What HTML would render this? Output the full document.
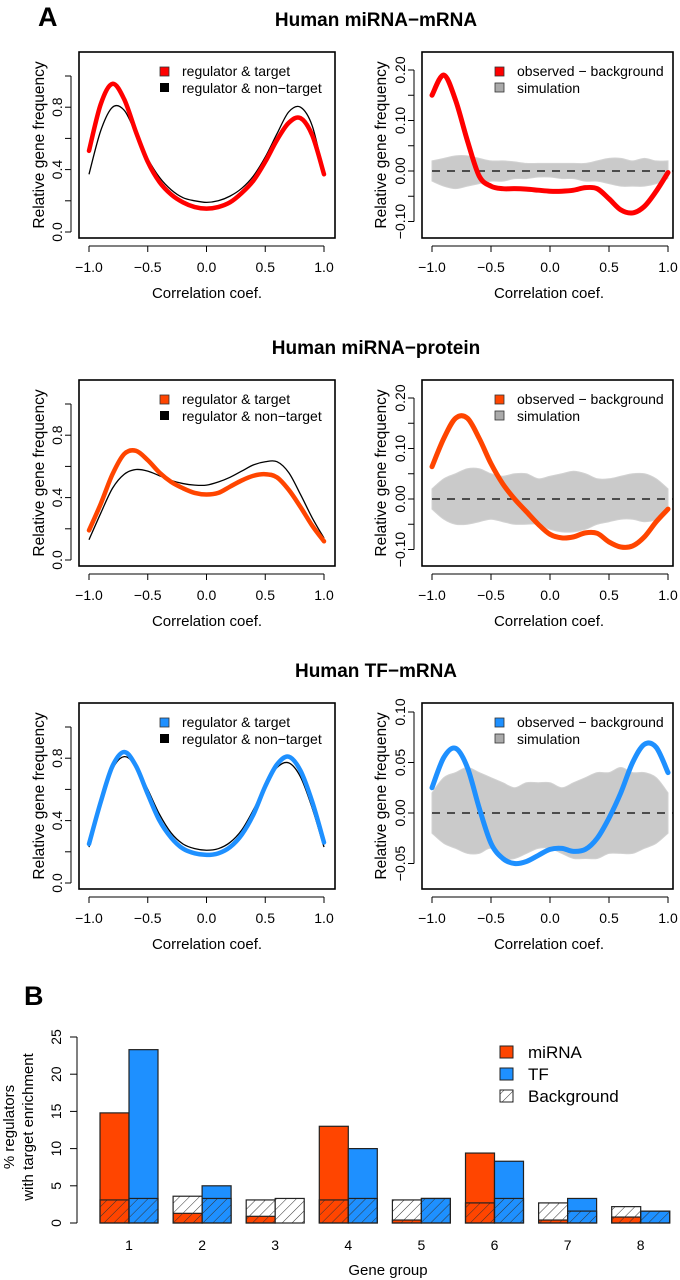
<!DOCTYPE html>
<html><head><meta charset="utf-8"><style>
html,body{margin:0;padding:0;background:#fff}
svg{display:block;font-family:"Liberation Sans",Arial,sans-serif}
</style></head><body>
<svg id="fig" width="680" height="1280" viewBox="0 0 680 1280">
<defs>
<pattern id="hatch" patternUnits="userSpaceOnUse" width="7" height="7" patternTransform="rotate(45)">
<line x1="0" y1="0" x2="0" y2="7" stroke="#333" stroke-width="1"/>
</pattern>
</defs>
</svg>
<script>
// ---------- data ----------
const xGrid = [-1,-0.9,-0.8,-0.7,-0.6,-0.5,-0.4,-0.3,-0.2,-0.1,0,0.1,0.2,0.3,0.4,0.5,0.6,0.7,0.8,0.9,1];
const xTicks = [-1,-0.5,0,0.5,1];
const xTickLabels = ["\u22121.0","\u22120.5","0.0","0.5","1.0"];
const titles = ["Human miRNA\u2212mRNA","Human miRNA\u2212protein","Human TF\u2212mRNA"];
const colors = ["#ff0000","#ff4500","#1e90ff"];
const target1 = [0.52,0.82,0.95,0.85,0.64,0.45,0.32,0.24,0.19,0.16,0.15,0.16,0.19,0.25,0.33,0.45,0.59,0.70,0.73,0.62,0.37];
const nontarget1 = [0.37,0.65,0.80,0.78,0.63,0.47,0.35,0.27,0.22,0.20,0.19,0.20,0.23,0.28,0.36,0.48,0.63,0.77,0.80,0.68,0.37];
const target2 = [0.19,0.36,0.55,0.68,0.70,0.64,0.56,0.50,0.46,0.43,0.42,0.43,0.47,0.51,0.54,0.55,0.53,0.45,0.34,0.22,0.12];
const nontarget2 = [0.13,0.30,0.46,0.55,0.58,0.57,0.54,0.51,0.49,0.48,0.48,0.50,0.53,0.57,0.61,0.63,0.63,0.56,0.42,0.27,0.14];
const target3 = [0.25,0.52,0.75,0.84,0.75,0.57,0.40,0.29,0.22,0.19,0.18,0.19,0.23,0.31,0.44,0.62,0.76,0.81,0.72,0.52,0.26];
const nontarget3 = [0.23,0.50,0.73,0.81,0.75,0.60,0.44,0.32,0.25,0.22,0.21,0.22,0.26,0.34,0.47,0.62,0.74,0.77,0.68,0.48,0.23];
const observed1 = [0.15,0.19,0.14,0.06,-0.01,-0.03,-0.035,-0.035,-0.036,-0.038,-0.04,-0.04,-0.038,-0.033,-0.035,-0.055,-0.077,-0.083,-0.07,-0.04,-0.003];
const observed2 = [0.064,0.12,0.16,0.16,0.12,0.07,0.03,0.0,-0.025,-0.05,-0.07,-0.077,-0.075,-0.067,-0.068,-0.085,-0.095,-0.093,-0.075,-0.045,-0.02];
const observed3 = [0.025,0.055,0.064,0.045,0.005,-0.03,-0.045,-0.05,-0.048,-0.042,-0.036,-0.035,-0.038,-0.036,-0.025,-0.005,0.02,0.05,0.068,0.065,0.04];
const simUpper1 = [0.02,0.025,0.03,0.03,0.025,0.02,0.02,0.018,0.015,0.015,0.015,0.015,0.015,0.015,0.02,0.025,0.025,0.02,0.025,0.02,0.02];
const simLower1 = [-0.02,-0.03,-0.035,-0.03,-0.025,-0.02,-0.02,-0.015,-0.015,-0.012,-0.012,-0.015,-0.015,-0.02,-0.02,-0.025,-0.03,-0.03,-0.03,-0.025,-0.015];
const simUpper2 = [0.02,0.04,0.05,0.06,0.06,0.05,0.045,0.05,0.05,0.04,0.045,0.05,0.055,0.05,0.04,0.04,0.045,0.05,0.05,0.04,0.02];
const simLower2 = [-0.02,-0.04,-0.05,-0.05,-0.045,-0.04,-0.045,-0.05,-0.05,-0.05,-0.06,-0.065,-0.065,-0.06,-0.05,-0.045,-0.04,-0.04,-0.045,-0.04,-0.02];
const simUpper3 = [0.02,0.035,0.04,0.045,0.04,0.035,0.03,0.025,0.03,0.03,0.03,0.025,0.03,0.035,0.04,0.04,0.045,0.04,0.04,0.035,0.02];
const simLower3 = [-0.02,-0.03,-0.035,-0.04,-0.04,-0.035,-0.045,-0.045,-0.04,-0.035,-0.035,-0.04,-0.045,-0.045,-0.045,-0.04,-0.04,-0.04,-0.035,-0.03,-0.02];
const leftYTicks = [0,0.2,0.4,0.6,0.8,1.0];
const leftYLabels = ["0.0","","0.4","","0.8",""];
const rightYTicksA = [-0.10,-0.05,0,0.05,0.10,0.15,0.20];
const rightYLabelsA = ["\u22120.10","","0.00","","0.10","","0.20"];
const rightYTicksB = [-0.05,0,0.05,0.10];
const rightYLabelsB = ["\u22120.05","0.00","0.05","0.10"];
const groups = ["1","2","3","4","5","6","7","8"];
const mirnaVals = [14.8,1.3,0.9,13.0,0.4,9.4,0.4,0.8];
const tfVals = [23.3,5.0,0,10.0,3.3,8.3,3.3,1.6];
const mirnaBg = [3.1,3.6,3.1,3.1,3.1,2.7,2.7,2.2];
const tfBg = [3.3,3.3,3.3,3.3,3.3,3.3,1.6,1.6];
const barYTicks = [0,5,10,15,20,25];

// ---------- helpers ----------
const NS = "http://www.w3.org/2000/svg";
const svg = document.getElementById("fig");
function mk(tag, attrs, parent){
  const e = document.createElementNS(NS, tag);
  for (const k in attrs) e.setAttribute(k, attrs[k]);
  (parent||svg).appendChild(e);
  return e;
}
function txt(x,y,s,size,extra,parent){
  const t = mk("text", Object.assign({x:x,y:y,"font-size":size,fill:"#000"}, extra||{}), parent);
  t.textContent = s;
  return t;
}
function smooth(pts){
  let d = "M"+pts[0][0].toFixed(2)+","+pts[0][1].toFixed(2);
  for (let i=0;i<pts.length-1;i++){
    const p0 = pts[i-1]||pts[i], p1 = pts[i], p2 = pts[i+1], p3 = pts[i+2]||pts[i+1];
    const c1x = p1[0]+(p2[0]-p0[0])/6, c1y = p1[1]+(p2[1]-p0[1])/6;
    const c2x = p2[0]-(p3[0]-p1[0])/6, c2y = p2[1]-(p3[1]-p1[1])/6;
    d += " C"+c1x.toFixed(2)+","+c1y.toFixed(2)+" "+c2x.toFixed(2)+","+c2y.toFixed(2)+" "+p2[0].toFixed(2)+","+p2[1].toFixed(2);
  }
  return d;
}

// ---------- panel A ----------
const rowOffsets = [0,328,651];
const targets = [target1,target2,target3];
const nontargets = [nontarget1,nontarget2,nontarget3];
const observeds = [observed1,observed2,observed3];
const uppers = [simUpper1,simUpper2,simUpper3];
const lowers = [simLower1,simLower2,simLower3];

const lblA = txt(38,26,"A",27,{"font-weight":"bold"});



for (let r=0;r<3;r++){
  const R = rowOffsets[r];
  const g = mk("g",{});
  
  
  const title = txt(376,R+26,titles[r],19,{"font-weight":"bold","text-anchor":"middle"},g);
  
  

  const lx = v => 89 + (v+1)*117.5;
  const ly = v => R+232 - v*156;
  const lp = mk("g",{},g);
  
  
  const lbox = mk("rect",{x:79,y:R+52,width:256,height:186,fill:"none",stroke:"#000","stroke-width":1.6},lp);
  
  
  mk("line",{x1:71,x2:71,y1:ly(0),y2:ly(1),stroke:"#000","stroke-width":1},lp);
  leftYTicks.forEach((v,i)=>{
    const t = mk("line",{x1:65,x2:71,y1:ly(v),y2:ly(v),stroke:"#000","stroke-width":1},lp);
    
    
    if (leftYLabels[i]){
      const l = txt(0,0,leftYLabels[i],14,{"text-anchor":"middle",transform:"translate(62,"+ly(v)+") rotate(-90)"},lp);
      
      
    }
  });
  mk("line",{x1:lx(-1),x2:lx(1),y1:R+246,y2:R+246,stroke:"#000","stroke-width":1},lp);
  xTicks.forEach((v,i)=>{
    const t = mk("line",{x1:lx(v),x2:lx(v),y1:R+246,y2:R+252,stroke:"#000","stroke-width":1},lp);
    
    
    const l = txt(lx(v),R+272,xTickLabels[i],14,{"text-anchor":"middle"},lp);
    
    
  });
  const xt = txt(207,R+298,"Correlation coef.",15,{"text-anchor":"middle"},lp);
  
  
  const yt = txt(0,0,"Relative gene frequency",15.5,{"text-anchor":"middle",transform:"translate(44,"+(R+145)+") rotate(-90)"},lp);
  
  
  const nt = mk("path",{d:smooth(xGrid.map((x,i)=>[lx(x),ly(nontargets[r][i])])),fill:"none",stroke:"#000","stroke-width":1.3},lp);
  
  
  const tg = mk("path",{d:smooth(xGrid.map((x,i)=>[lx(x),ly(targets[r][i])])),fill:"none",stroke:colors[r],"stroke-width":4.5,"stroke-linecap":"round"},lp);
  
  
  const lg = mk("g",{},lp);
  
  
  const s1 = mk("rect",{x:160,y:R+67,width:9,height:9,fill:colors[r],stroke:"#333","stroke-width":0.8},lg);
  
  
  const t1 = txt(182,R+76,"regulator & target",14,{},lg);
  
  
  const s2 = mk("rect",{x:160,y:R+83,width:9,height:9,fill:"#000"},lg);
  
  
  const t2 = txt(182,R+93,"regulator & non\u2212target",14,{},lg);
  
  

  const rx = v => 432 + (v+1)*118;
  const zero = r===2 ? R+162 : R+171;
  const scl = r===2 ? 1010 : 505;
  const ry = v => zero - v*scl;
  const rp = mk("g",{},g);
  
  
  const band = xGrid.map((x,i)=>[rx(x),ry(uppers[r][i])]);
  const bandLow = xGrid.map((x,i)=>[rx(x),ry(lowers[r][i])]).reverse();
  const bd = smooth(band) + " L" + smooth(bandLow).slice(1) + " Z";
  const sim = mk("path",{d:bd,fill:"#cacaca",stroke:"#d2d2d2","stroke-width":1},rp);
  
  
  const zl = mk("line",{x1:rx(-1),x2:673,y1:ry(0),y2:ry(0),stroke:"#000","stroke-width":1.3,"stroke-dasharray":"8,7"},rp);
  
  
  const ob = mk("path",{d:smooth(xGrid.map((x,i)=>[rx(x),ry(observeds[r][i])])),fill:"none",stroke:colors[r],"stroke-width":5,"stroke-linecap":"round"},rp);
  
  
  const rbox = mk("rect",{x:422,y:R+52,width:251,height:186,fill:"none",stroke:"#000","stroke-width":1.6},rp);
  
  
  const ticks = r===2 ? rightYTicksB : rightYTicksA;
  const labs = r===2 ? rightYLabelsB : rightYLabelsA;
  mk("line",{x1:414,x2:414,y1:ry(ticks[0]),y2:ry(ticks[ticks.length-1]),stroke:"#000","stroke-width":1},rp);
  ticks.forEach((v,i)=>{
    const t = mk("line",{x1:408,x2:414,y1:ry(v),y2:ry(v),stroke:"#000","stroke-width":1},rp);
    
    
    if (labs[i]){
      const l = txt(0,0,labs[i],14,{"text-anchor":"middle",transform:"translate(405,"+ry(v)+") rotate(-90)"},rp);
      
      
    }
  });
  mk("line",{x1:rx(-1),x2:rx(1),y1:R+246,y2:R+246,stroke:"#000","stroke-width":1},rp);
  xTicks.forEach((v,i)=>{
    const t = mk("line",{x1:rx(v),x2:rx(v),y1:R+246,y2:R+252,stroke:"#000","stroke-width":1},rp);
    
    
    const l = txt(rx(v),R+272,xTickLabels[i],14,{"text-anchor":"middle"},rp);
    
    
  });
  const xt2 = txt(549,R+298,"Correlation coef.",15,{"text-anchor":"middle"},rp);
  
  
  const yt2 = txt(0,0,"Relative gene frequency",15.5,{"text-anchor":"middle",transform:"translate(386,"+(R+145)+") rotate(-90)"},rp);
  
  
  const lg2 = mk("g",{},rp);
  
  
  const s3 = mk("rect",{x:495,y:R+67,width:9,height:9,fill:colors[r],stroke:"#333","stroke-width":0.8},lg2);
  
  
  const t3 = txt(517,R+76,"observed \u2212 background",14,{},lg2);
  
  
  const s4 = mk("rect",{x:495,y:R+83,width:9,height:9,fill:"#aaa",stroke:"#333","stroke-width":0.8},lg2);
  
  
  const t4 = txt(517,R+93,"simulation",14,{},lg2);
  
  
}

// ---------- panel B ----------
const lblB = txt(24,1005,"B",27,{"font-weight":"bold"});


const bg = mk("g",{});


const by = v => 1223 - v*7.44;
const bx = i => 129 + i*73.1;
const BW = 29;
mk("line",{x1:77,x2:77,y1:by(0),y2:by(25),stroke:"#000","stroke-width":1},bg);
barYTicks.forEach(v=>{
  const t = mk("line",{x1:70,x2:77,y1:by(v),y2:by(v),stroke:"#000","stroke-width":1},bg);
  
  
  const l = txt(0,0,String(v),14,{"text-anchor":"middle",transform:"translate(61,"+by(v)+") rotate(-90)"},bg);
  
  
});
function drawBar(x,val,bgv,color,name){
  const w = mk("rect",{x:x,y:by(bgv),width:BW,height:by(0)-by(bgv),fill:"#fff"},bg);
  
  
  const b = mk("rect",{x:x,y:by(val),width:BW,height:by(0)-by(val),fill:color,stroke:"#222","stroke-width":1.2},bg);
  
  
  const h = mk("rect",{x:x,y:by(bgv),width:BW,height:by(0)-by(bgv),fill:"url(#hatch)",stroke:"#222","stroke-width":1.2},bg);
  
  
}
groups.forEach((gname,i)=>{
  drawBar(bx(i)-BW, mirnaVals[i], mirnaBg[i], "#ff4500", "bar-mirna-"+gname);
  drawBar(bx(i), tfVals[i], tfBg[i], "#1e90ff", "bar-tf-"+gname);
  const l = txt(bx(i),1250,gname,14,{"text-anchor":"middle"},bg);
  
  
});
const gx = txt(388,1275,"Gene group",15,{"text-anchor":"middle"},bg);


const gy1 = txt(0,0,"% regulators",15,{"text-anchor":"middle",transform:"translate(14,1127) rotate(-90)"},bg);


const gy2 = txt(0,0,"with target enrichment",15,{"text-anchor":"middle",transform:"translate(33,1127) rotate(-90)"},bg);


const blg = mk("g",{},bg);


const ls1 = mk("rect",{x:500,y:1046,width:13,height:12,fill:"#ff4500",stroke:"#222","stroke-width":1},blg);


const lt1 = txt(528,1058,"miRNA",17,{},blg);


const ls2 = mk("rect",{x:500,y:1068,width:13,height:12,fill:"#1e90ff",stroke:"#222","stroke-width":1},blg);


const lt2 = txt(528,1080,"TF",17,{},blg);


const ls3 = mk("rect",{x:500,y:1090,width:13,height:12,fill:"url(#hatch)",stroke:"#222","stroke-width":1},blg);


const lt3 = txt(528,1102,"Background",17,{},blg);


</script>
</body></html>
